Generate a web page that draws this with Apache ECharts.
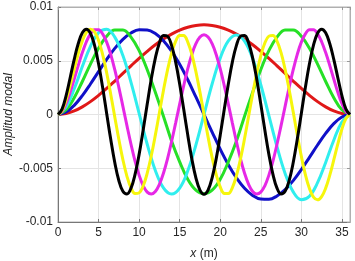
<!DOCTYPE html>
<html>
<head>
<meta charset="utf-8">
<script src="https://cdn.jsdelivr.net/npm/echarts@6/dist/echarts.min.js"></script>
<style>
html,body{margin:0;padding:0;background:#fff;}
#chart{width:355px;height:261px;}
</style>
</head>
<body>
<div id="chart"></div>
<script>
// x positions (m)
var xCoarse = [0,1,2,3,4,5,6,7,8,9,10,11,12,13,14,15,16,17,18,19,20,21,22,23,24,25,26,27,28,29,30,31,32,33,34,35,36];
var xFine = [0,0.5,1,1.5,2,2.5,3,3.5,4,4.5,5,5.5,6,6.5,7,7.5,8,8.5,9,9.5,10,10.5,11,11.5,12,12.5,13,13.5,14,14.5,15,15.5,16,16.5,17,17.5,18,18.5,19,19.5,20,20.5,21,21.5,22,22.5,23,23.5,24,24.5,25,25.5,26,26.5,27,27.5,28,28.5,29,29.5,30,30.5,31,31.5,32,32.5,33,33.5,34,34.5,35,35.5,36];

// modal amplitudes
var mode1 = [0,0.00009,0.00033,0.00071,0.00120,0.00178,0.00242,0.00311,0.00382,0.00453,0.00523,0.00588,0.00649,0.00703,0.00748,0.00785,0.00812,0.00828,0.00834,0.00828,0.00812,0.00785,0.00748,0.00703,0.00649,0.00588,0.00523,0.00453,0.00382,0.00311,0.00242,0.00178,0.00120,0.00071,0.00033,0.00009,0];
var mode2 = [0,0.00023,0.00085,0.00176,0.00284,0.00399,0.00512,0.00615,0.00699,0.00758,0.00789,0.00787,0.00753,0.00686,0.00589,0.00467,0.00323,0.00163,0,-0.00163,-0.00323,-0.00467,-0.00589,-0.00686,-0.00753,-0.00787,-0.00789,-0.00758,-0.00699,-0.00615,-0.00512,-0.00399,-0.00284,-0.00176,-0.00085,-0.00023,0];
var mode3 = [0,0.00044,0.00156,0.00307,0.00469,0.00616,0.00727,0.00787,0.00785,0.00720,0.00594,0.00417,0.00206,-0.00016,-0.00247,-0.00441,-0.00603,-0.00704,-0.00738,-0.00704,-0.00603,-0.00441,-0.00247,-0.00016,0.00206,0.00417,0.00594,0.00720,0.00785,0.00787,0.00727,0.00616,0.00469,0.00307,0.00156,0.00044,0];
var mode4 = [0,0.00070,0.00239,0.00446,0.00634,0.00760,0.00792,0.00720,0.00548,0.00299,0.00010,-0.00277,-0.00520,-0.00683,-0.00740,-0.00685,-0.00524,-0.00284,0,0.00284,0.00524,0.00685,0.00740,0.00683,0.00520,0.00277,-0.00010,-0.00299,-0.00548,-0.00720,-0.00792,-0.00760,-0.00634,-0.00446,-0.00239,-0.00070,0];
var mode5 = [0,0.00028,0.00102,0.00207,0.00330,0.00457,0.00576,0.00677,0.00750,0.00789,0.00789,0.00750,0.00673,0.00560,0.00417,0.00253,0.00076,-0.00104,-0.00277,-0.00434,-0.00564,-0.00663,-0.00722,-0.00740,-0.00716,-0.00650,-0.00546,-0.00412,-0.00253,-0.00080,0.00097,0.00269,0.00426,0.00558,0.00659,0.00721,0.00743,0.00721,0.00659,0.00558,0.00426,0.00269,0.00097,-0.00080,-0.00253,-0.00412,-0.00546,-0.00650,-0.00716,-0.00740,-0.00722,-0.00663,-0.00564,-0.00434,-0.00277,-0.00104,0.00076,0.00253,0.00417,0.00560,0.00673,0.00750,0.00789,0.00789,0.00750,0.00677,0.00576,0.00457,0.00330,0.00207,0.00102,0.00028,0];
var mode6 = [0,0.00038,0.00137,0.00273,0.00423,0.00566,0.00685,0.00764,0.00794,0.00769,0.00689,0.00560,0.00389,0.00189,-0.00023,-0.00231,-0.00420,-0.00575,-0.00683,-0.00736,-0.00729,-0.00665,-0.00546,-0.00384,-0.00192,0.00017,0.00224,0.00413,0.00569,0.00680,0.00736,0.00734,0.00673,0.00558,0.00399,0.00208,0,-0.00208,-0.00399,-0.00558,-0.00673,-0.00734,-0.00736,-0.00680,-0.00569,-0.00413,-0.00224,-0.00017,0.00192,0.00384,0.00546,0.00665,0.00729,0.00736,0.00683,0.00575,0.00420,0.00231,0.00023,-0.00189,-0.00389,-0.00560,-0.00689,-0.00769,-0.00794,-0.00764,-0.00685,-0.00566,-0.00423,-0.00273,-0.00137,-0.00038,0];
var mode7 = [0,0.00050,0.00176,0.00342,0.00513,0.00660,0.00760,0.00794,0.00756,0.00645,0.00472,0.00253,0.00010,-0.00231,-0.00447,-0.00614,-0.00714,-0.00739,-0.00685,-0.00557,-0.00371,-0.00144,0.00097,0.00329,0.00525,0.00666,0.00736,0.00728,0.00643,0.00490,0.00284,0.00049,-0.00192,-0.00413,-0.00589,-0.00703,-0.00743,-0.00703,-0.00589,-0.00413,-0.00192,0.00049,0.00284,0.00490,0.00643,0.00728,0.00736,0.00666,0.00525,0.00329,0.00097,-0.00144,-0.00371,-0.00557,-0.00685,-0.00739,-0.00714,-0.00614,-0.00447,-0.00231,0.00010,0.00253,0.00472,0.00645,0.00756,0.00794,0.00760,0.00660,0.00513,0.00342,0.00176,0.00050,0];

var xTickLabels = ['0','5','10','15','20','25','30','35'];
var yTickLabels = ['-0.01','-0.005','0','0.005','0.01'];

function pairs(xs, ys){ return xs.map(function(x,i){ return [x, ys[i]]; }); }

var seriesDefs = [
  {name:'Modo 1', x:xCoarse, y:mode1, color:'#e01818'},
  {name:'Modo 2', x:xCoarse, y:mode2, color:'#1010c8'},
  {name:'Modo 3', x:xCoarse, y:mode3, color:'#26e026'},
  {name:'Modo 4', x:xCoarse, y:mode4, color:'#30eeee'},
  {name:'Modo 5', x:xFine, y:mode5, color:'#e628e6'},
  {name:'Modo 6', x:xFine, y:mode6, color:'#f6f60c'},
  {name:'Modo 7', x:xFine, y:mode7, color:'#000000'}
];

var fontFam = "'Liberation Sans', Arial, Helvetica, sans-serif";
var labelColor = '#262626';

var chart = echarts.init(document.getElementById('chart'), null, {renderer:'canvas'});
chart.setOption({
  animation:false,
  backgroundColor:'#ffffff',
  grid:{left:58, right:5, top:7, bottom:39, containLabel:false, outerBoundsMode:'none',
        show:true, borderColor:'#b0b0b0', borderWidth:1, backgroundColor:'transparent'},
  xAxis:[{
    type:'value', min:0, max:36, interval:5,
    name:'{i|x} (m)', nameLocation:'middle', nameGap:26, nameMoveOverlap:false,
    nameTextStyle:{color:labelColor, fontSize:12, fontFamily:fontFam, rich:{i:{fontStyle:'italic', fontSize:12, fontFamily:fontFam, color:labelColor}}},
    axisLine:{show:true, onZero:false, lineStyle:{color:'#777', width:1}},
    axisTick:{show:true, inside:true, length:3, lineStyle:{color:'#777'}},
    axisLabel:{color:labelColor, fontSize:12, fontFamily:fontFam, margin:5, showMaxLabel:false,
      formatter:function(v){ var k=Math.round(v/5); return (Math.abs(v-5*k)<1e-9 && xTickLabels[k]!==undefined)? xTickLabels[k] : ''; }},
    splitLine:{show:true, lineStyle:{color:'#e4e4e4', width:1}}
  },{
    type:'value', min:0, max:36, interval:5, position:'top',
    axisLine:{show:true, onZero:false, lineStyle:{color:'#b0b0b0'}},
    axisTick:{show:true, inside:true, length:3, lineStyle:{color:'#999'}},
    axisLabel:{show:false}, splitLine:{show:false}
  }],
  yAxis:[{
    type:'value', min:-0.01, max:0.01, interval:0.005,
    name:'Amplitud modal', nameLocation:'middle', nameGap:43, nameMoveOverlap:false,
    nameTextStyle:{color:labelColor, fontSize:12, fontStyle:'italic', fontFamily:fontFam},
    axisLine:{show:true, onZero:false, lineStyle:{color:'#777', width:1}},
    axisTick:{show:true, inside:true, length:3, lineStyle:{color:'#777'}},
    axisLabel:{color:labelColor, fontSize:12, fontFamily:fontFam, margin:5,
      formatter:function(v){ var k=Math.round((v+0.01)/0.005); return yTickLabels[k]; }},
    splitLine:{show:true, lineStyle:{color:'#e4e4e4', width:1}}
  },{
    type:'value', min:-0.01, max:0.01, interval:0.005, position:'right',
    axisLine:{show:true, onZero:false, lineStyle:{color:'#b0b0b0'}},
    axisTick:{show:true, inside:true, length:3, lineStyle:{color:'#999'}},
    axisLabel:{show:false}, splitLine:{show:false}
  }],
  series: seriesDefs.map(function(s){
    return {
      name:s.name, type:'line', xAxisIndex:0, yAxisIndex:0,
      data:pairs(s.x, s.y), smooth:0.4, showSymbol:false, symbol:'none',
      lineStyle:{color:s.color, width:3}, itemStyle:{color:s.color},
      silent:true
    };
  })
});
</script>
</body>
</html>
